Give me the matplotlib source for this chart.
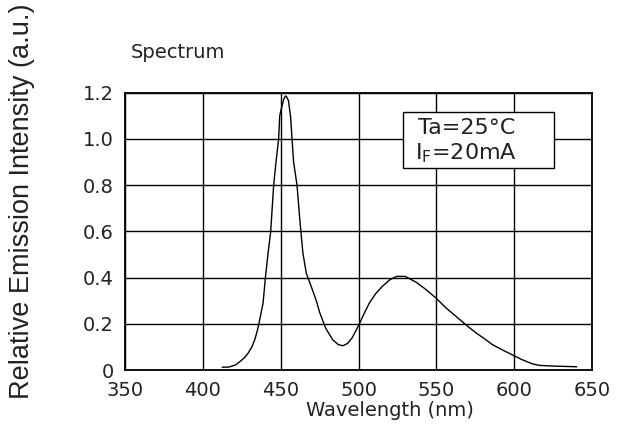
import matplotlib
matplotlib.use("Agg")
import matplotlib.pyplot as plt
from matplotlib.patches import Rectangle

wavelength = [412.6, 417, 421, 424, 427, 429, 431.5, 433.3, 435, 436, 437.5, 438.7,
              440.2, 441.9, 443.6, 445.5, 447, 448.7, 449.4, 450.4, 451.9, 453, 453.6,
              455, 456.4, 457.3, 458.3, 460.5, 462.3, 464.3, 466.5, 469.7, 472.9, 475,
              479, 483.5, 487, 490, 493, 496, 500.6, 504, 507, 511, 515, 520, 524.4,
              530, 537, 543, 550, 556, 563, 570, 575.6, 581, 586, 593, 599, 605, 611.5,
              616, 625, 640]
intensity = [0.012, 0.013, 0.022, 0.037, 0.055, 0.072, 0.10, 0.13, 0.17, 0.20, 0.25, 0.29,
             0.40, 0.505, 0.60, 0.80, 0.90, 1.00, 1.10, 1.13, 1.17, 1.185, 1.185,
             1.166, 1.095, 1.00, 0.90, 0.80, 0.65, 0.505, 0.418, 0.36, 0.30, 0.25,
             0.18, 0.13, 0.11, 0.105, 0.115, 0.14, 0.20, 0.25, 0.29, 0.33, 0.36, 0.39, 0.405,
             0.405, 0.38, 0.35, 0.31, 0.27, 0.23, 0.19, 0.16, 0.135, 0.11, 0.085, 0.065, 0.045, 0.027,
             0.02, 0.017, 0.014]

x_ticks = [350, 400, 450, 500, 550, 600, 650]
y_ticks = [0, 0.2, 0.4, 0.6, 0.8, 1.0, 1.2]
y_tick_labels = ["0", "0.2", "0.4", "0.6", "0.8", "1.0", "1.2"]

title = "Spectrum"
x_label = "Wavelength (nm)"
y_label = "Relative Emission Intensity (a.u.)"
legend_lines = ["Ta=25°C", "I$_\\mathregular{F}$=20mA"]

fig = plt.figure(figsize=(6.32, 4.30), dpi=100)
ax = fig.add_axes([125/632, 60/430, 467/632, 277.3/430])

ax.plot(wavelength, intensity, color="black", lw=1.0, zorder=3)
ax.set_xlim(350, 650)
ax.set_ylim(0, 1.2)
ax.set_xticks(x_ticks)
ax.set_yticks(y_ticks)
ax.set_yticklabels(y_tick_labels)
ax.grid(True, color="black", lw=1.0)
ax.tick_params(length=0, labelsize=14, pad=8, colors="#222222")
for s in ax.spines.values():
    s.set_linewidth(1.3)

fig.text(131/632, 1 - 52/430, title, fontsize=14, ha="left", va="center", color="#222222")
fig.text(390/632, 1 - 410/430, x_label, fontsize=14, ha="center", va="center", color="#222222")
fig.text(22/632, 1 - 201/430, y_label, fontsize=19.5, family="Liberation Sans", rotation=90,
         ha="center", va="center", color="#222222")

bx0 = (403 - 125) / 467
bx1 = (554 - 125) / 467
by0 = (370 - 168) / 277.3
by1 = (370 - 112) / 277.3
ax.add_patch(Rectangle((bx0, by0), bx1 - bx0, by1 - by0, transform=ax.transAxes,
                       fc="white", ec="black", lw=1.0, zorder=4))
ax.text(0.628, (370 - 128) / 277.3, legend_lines[0], transform=ax.transAxes, fontsize=16,
        ha="left", va="center", color="#222222", zorder=5)
ax.text(0.622, (370 - 153) / 277.3, legend_lines[1], transform=ax.transAxes, fontsize=16,
        ha="left", va="center", color="#222222", zorder=5)

fig.savefig("out.png", dpi=100)
